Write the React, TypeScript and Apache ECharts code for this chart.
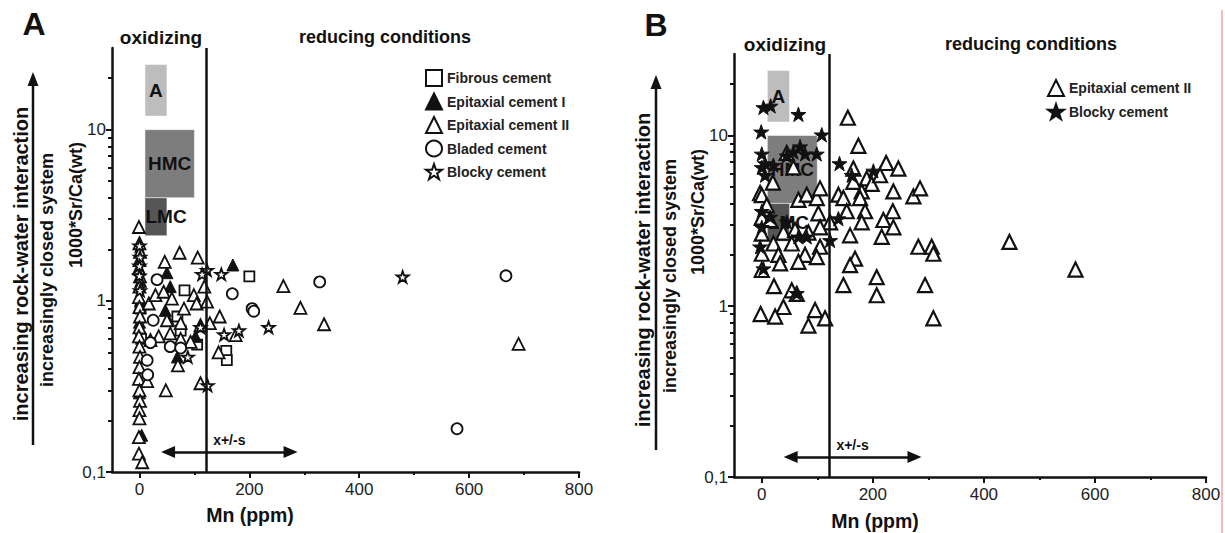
import React, { useEffect, useRef } from "react";
import * as echarts from "echarts";

// ---------- axes ----------
const X_MIN = -50;
const X_MAX = 800;
const Y_MIN = 0.1;
const Y_MAX = 30;
const xMajorTicks = [0, 200, 400, 600, 800];
const xMinorTicks = [100, 300, 500, 700];
const yMajorTicks = [0.1, 1, 10];
const yMinorTicks = [0.2, 0.3, 0.4, 0.5, 0.6, 0.7, 0.8, 0.9, 2, 3, 4, 5, 6, 7, 8, 9, 20];

// threshold oxidizing / reducing and mean +/- s range (shaft ends)
const thresholdMn = 122;
const rangeMn = [52, 275];
const rangeSr = 0.131;

// reference fields [name, xFrom, yFrom, xTo, yTo]
const zoneA = ["A", 10, 12, 50, 24];
const zoneHMC = ["HMC", 10, 4, 100, 10];
const zoneLMC = ["LMC", 10, 2.4, 50, 4];

// ---------- panel A data [Mn ppm, 1000*Sr/Ca] ----------
const fibrousA = [
  [200, 1.39], [82, 1.15], [75, 0.67], [105, 0.555], [158, 0.51], [159, 0.45], [69, 0.81], [2, 0.9], [3, 0.6],
];
const epitaxialIA = [
  [170, 1.62], [50, 1.46], [56, 1.21], [47, 0.88], [53, 0.77], [69, 0.47], [102, 0.62], [4, 0.164], [0, 0.29],
  [2, 1.3], [2, 1.0], [0, 0.75],
];
const epitaxialIIA = [
  [-1, 2.7], [0, 2.17], [1, 1.93], [0, 1.73], [-1, 1.55], [1, 1.39], [0, 1.21], [-1, 1.05], [0, 0.92], [1, 0.81],
  [0, 0.7], [-1, 0.62], [0, 0.54], [1, 0.47], [0, 0.41], [-1, 0.35], [0, 0.3], [1, 0.26], [0, 0.23], [0, 0.206],
  [-1, 0.16], [-1, 0.128], [5, 0.114],
  [46, 1.69], [73, 1.91], [106, 1.79], [17, 0.965], [29, 1.08], [44, 1.13], [59, 1.03], [99, 1.08], [104, 0.965],
  [81, 0.9], [118, 1.21], [123, 0.99], [128, 0.74], [111, 0.72], [75, 0.74], [50, 0.77], [20, 0.59], [35, 0.62],
  [56, 0.645], [75, 0.6], [93, 0.576], [70, 0.42], [48, 0.3], [111, 0.33], [144, 0.5], [146, 0.81], [175, 0.63],
  [262, 1.22], [293, 0.91], [336, 0.73], [690, 0.56], [14, 0.34],
];
const bladedA = [
  [32, 1.33], [169, 1.1], [205, 0.9], [208, 0.87], [328, 1.29], [25, 0.77], [56, 0.54], [75, 0.53], [20, 0.57],
  [14, 0.45], [15, 0.37], [667, 1.4], [578, 0.179],
];
const blockyA = [
  [123, 1.51], [149, 1.43], [114, 1.43], [111, 0.7], [154, 0.635], [181, 0.67], [235, 0.7], [88, 0.47], [124, 0.32],
  [479, 1.38], [0, 2.1], [1, 1.8], [0, 1.6], [0, 1.4], [1, 1.15],
];

// ---------- panel B data ----------
const epitaxialIIB = [
  [155, 12.7], [174, 8.7], [224, 6.9], [246, 6.4], [165, 6.4], [57, 6.5], [45, 7.9], [20, 5.3], [165, 5.35],
  [189, 5.6], [198, 5.2], [213, 5.85],
  [-3, 4.6], [0, 4.47], [66, 4.2], [81, 4.5], [99, 4.3], [105, 4.9], [138, 4.5], [147, 4.3], [180, 4.7], [177, 4.3],
  [237, 4.7], [273, 4.4], [285, 4.9],
  [9, 3.9], [0, 3.3], [15, 3.2], [102, 3.5], [123, 3.1], [153, 3.6], [186, 3.6], [236, 3.6], [180, 3.1], [219, 3.2],
  [237, 2.9], [39, 2.7], [60, 2.8], [84, 2.7], [105, 2.9], [159, 2.6], [216, 2.55], [0, 2.66], [21, 2.33], [54, 2.33],
  [105, 2.23], [282, 2.23], [306, 2.23], [309, 2.03], [0, 2.03], [30, 2.0], [78, 2.0], [99, 1.94], [33, 1.78],
  [66, 1.82], [168, 1.9], [159, 1.74], [0, 1.63], [147, 1.33], [207, 1.48], [207, 1.16], [294, 1.33], [309, 0.85],
  [22, 1.31], [54, 1.24], [63, 1.18], [39, 0.99], [96, 0.95], [114, 0.85], [84, 0.77], [24, 0.87], [-2, 0.9],
  [446, 2.38], [565, 1.64],
];
const blockyB = [
  [3, 14.6], [16, 14.9], [66, 13.3], [-1, 10.5], [108, 10.1], [0, 7.8], [0, 6.5], [6, 5.85], [21, 6.7], [69, 8.6],
  [78, 7.8], [99, 7.8], [57, 8.0], [45, 7.6], [140, 6.85], [162, 5.85], [201, 6.2], [15, 3.33], [45, 3.12],
  [66, 2.55], [81, 2.55], [123, 2.43], [138, 3.26], [-3, 2.23], [3, 1.66], [63, 1.19], [6, 6.85], [0, 3.6], [0, 2.9],
];

const FONT = "Liberation Sans, Arial, Helvetica, sans-serif";
const INK = "#111";
const STAR =
  "path://M50,2 L61.5,36 L97,36 L68.5,57.5 L79.5,92 L50,71 L20.5,92 L31.5,57.5 L3,36 L38.5,36 Z";

function axesFor(gridIndex: number) {
  const xMain = {
    type: "value", gridIndex, min: X_MIN, max: X_MAX, position: "bottom",
    axisLine: { show: true, onZero: false, lineStyle: { color: INK, width: 2.5 } },
    axisTick: { show: true, customValues: xMajorTicks, length: 6, lineStyle: { color: INK, width: 2 } },
    axisLabel: { show: true, customValues: xMajorTicks, fontSize: 17, color: "#222", margin: 9, fontFamily: FONT },
    splitLine: { show: false },
  };
  const xMinor = {
    type: "value", gridIndex, min: X_MIN, max: X_MAX, position: "bottom",
    axisLine: { show: false, onZero: false },
    axisTick: { show: true, customValues: xMinorTicks, length: 3, lineStyle: { color: INK, width: 2 } },
    axisLabel: { show: false },
    splitLine: { show: false },
  };
  const yMain = {
    type: "log", logBase: 10, gridIndex, min: Y_MIN, max: Y_MAX, position: "left",
    axisLine: { show: true, onZero: false, lineStyle: { color: INK, width: 2.5 } },
    axisTick: { show: true, customValues: yMajorTicks, length: 6, lineStyle: { color: INK, width: 2 } },
    axisLabel: {
      show: true, customValues: yMajorTicks, fontSize: 17, color: "#222", margin: 6, fontFamily: FONT,
      formatter: (v: number) => (v < 0.5 ? "0,1" : String(Math.round(v))),
    },
    splitLine: { show: false },
  };
  const yMinor = {
    type: "log", logBase: 10, gridIndex, min: Y_MIN, max: Y_MAX, position: "left",
    axisLine: { show: false, onZero: false },
    axisTick: { show: true, customValues: yMinorTicks, length: 4, lineStyle: { color: INK, width: 2 } },
    axisLabel: { show: false },
    splitLine: { show: false },
  };
  return { x: [xMain, xMinor], y: [yMain, yMinor] };
}

function zoneData(z: any[], color: string, labelPos: string) {
  return [
    {
      name: z[0], coord: [z[1], z[2]], itemStyle: { color, borderColor: "rgba(255,255,255,0.5)", borderWidth: 1 },
      label: { position: labelPos },
    },
    { coord: [z[3], z[4]] },
  ];
}

function helperSeries(axisIdx: number) {
  return [
    {
      type: "line", name: "zones" + axisIdx, xAxisIndex: axisIdx * 2, yAxisIndex: axisIdx * 2, data: [], z: 1,
      markArea: {
        silent: true,
        label: { show: true, fontSize: 19, fontWeight: "bold", color: INK, fontFamily: FONT, distance: 1 },
        data: [
          zoneData(zoneA, "#bdbdbd", "inside"),
          zoneData(zoneHMC, "#7d7d7d", "inside"),
          zoneData(zoneLMC, "#555555", "insideLeft"),
        ],
      },
    },
    {
      type: "line", name: "threshold" + axisIdx, xAxisIndex: axisIdx * 2, yAxisIndex: axisIdx * 2, data: [], z: 2,
      markLine: {
        silent: true, symbol: ["none", "none"], label: { show: false },
        lineStyle: { color: INK, width: 2.5, type: "solid" },
        data: [{ xAxis: thresholdMn }],
      },
    },
    {
      type: "line", name: "range" + axisIdx, xAxisIndex: axisIdx * 2, yAxisIndex: axisIdx * 2, data: [], z: 2,
      markLine: {
        silent: true, symbol: ["triangle", "triangle"], symbolSize: [12, 14],
        label: {
          show: true, formatter: "x+/-s", position: "insideMiddleTop", distance: 5,
          fontSize: 14, fontWeight: "bold", color: INK, fontFamily: FONT,
        },
        lineStyle: { color: INK, width: 2.5, type: "solid" },
        data: [[{ coord: [rangeMn[0], rangeSr] }, { coord: [rangeMn[1], rangeSr] }]],
      },
    },
  ];
}

const openStyle = { color: "#fff", borderColor: INK, borderWidth: 1.8, opacity: 1 };
const fillStyle = { color: INK, borderColor: INK, borderWidth: 1, opacity: 1 };

function scatter(name: string, data: number[][], axisIdx: number, symbol: string, size: number, style: any) {
  return {
    type: "scatter", name, data, xAxisIndex: axisIdx * 2, yAxisIndex: axisIdx * 2, z: 3,
    symbol, symbolSize: size, symbolKeepAspect: true, itemStyle: style,
  };
}

function vText(text: string, x: number, y: number, size: number) {
  return {
    type: "text", x, y, rotation: Math.PI / 2,
    style: {
      text, fill: INK, fontSize: size, fontWeight: "bold", fontFamily: FONT,
      align: "center", verticalAlign: "middle",
    },
  };
}

function hText(text: string, x: number, y: number, size: number) {
  return {
    type: "text", x, y,
    style: {
      text, fill: INK, fontSize: size, fontWeight: "bold", fontFamily: FONT,
      align: "center", verticalAlign: "middle",
    },
  };
}

function upArrow(x: number, yTop: number, yBottom: number) {
  return [
    { type: "line", shape: { x1: x, y1: yTop + 10, x2: x, y2: yBottom }, style: { stroke: INK, lineWidth: 2.5 } },
    { type: "polygon", shape: { points: [[x, yTop], [x - 5.5, yTop + 14], [x + 5.5, yTop + 14]] }, style: { fill: INK } },
  ];
}

export default function App() {
  const ref = useRef<HTMLDivElement>(null);

  useEffect(() => {
    if (!ref.current) return;
    const chart = echarts.init(ref.current, undefined, { renderer: "svg" });
    const a = axesFor(0);
    const b = axesFor(1);

    const option: any = {
      animation: false,
      backgroundColor: "#ffffff",
      textStyle: { fontFamily: FONT },
      grid: [
        { left: 112, top: 48, width: 467, height: 424, containLabel: false },
        { left: 734, top: 54, width: 472, height: 423, containLabel: false },
      ],
      xAxis: [a.x[0], a.x[1], b.x[0], b.x[1]].map((ax: any, i) => ({ ...ax, gridIndex: i < 2 ? 0 : 1 })),
      yAxis: [a.y[0], a.y[1], b.y[0], b.y[1]].map((ax: any, i) => ({ ...ax, gridIndex: i < 2 ? 0 : 1 })),
      legend: [
        {
          orient: "vertical", left: 420, top: 64, itemWidth: 16, itemHeight: 16, itemGap: 5.5,
          textStyle: { fontSize: 14, fontWeight: "bold", color: "#222", fontFamily: FONT },
          data: ["Fibrous cement", "Epitaxial cement I", "Epitaxial cement II", "Bladed cement", "Blocky cement"],
        },
        {
          orient: "vertical", left: 1042, top: 74, itemWidth: 16, itemHeight: 16, itemGap: 6,
          textStyle: { fontSize: 14, fontWeight: "bold", color: "#222", fontFamily: FONT },
          formatter: (n: string) => n.replace("B|", ""),
          data: ["B|Epitaxial cement II", "B|Blocky cement"],
        },
      ],
      series: [
        ...helperSeries(0),
        ...helperSeries(1),
        scatter("Fibrous cement", fibrousA, 0, "rect", 10, openStyle),
        scatter("Epitaxial cement I", epitaxialIA, 0, "triangle", 12, fillStyle),
        scatter("Epitaxial cement II", epitaxialIIA, 0, "triangle", 12, openStyle),
        scatter("Bladed cement", bladedA, 0, "circle", 11, openStyle),
        scatter("Blocky cement", blockyA, 0, STAR, 12, openStyle),
        scatter("B|Epitaxial cement II", epitaxialIIB, 1, "triangle", 14, { ...openStyle, borderWidth: 2.2 }),
        scatter("B|Blocky cement", blockyB, 1, STAR, 15, fillStyle),
      ],
      graphic: [
        hText("A", 34, 24, 32),
        hText("B", 656, 25, 32),
        hText("oxidizing", 161, 37, 19),
        hText("reducing conditions", 385, 37, 18),
        hText("oxidizing", 785, 44, 19),
        hText("reducing conditions", 1031, 44, 18),
        hText("Mn (ppm)", 250, 515, 19.5),
        hText("Mn (ppm)", 875, 521, 19.5),
        vText("increasing rock-water interaction", 21, 264, 20),
        vText("increasingly closed system", 47, 270, 18),
        vText("1000*Sr/Ca(wt)", 76, 205, 18),
        ...upArrow(33, 72, 445),
        vText("increasing rock-water interaction", 643, 270, 20),
        vText("increasingly closed system", 670, 276, 18),
        vText("1000*Sr/Ca(wt)", 698, 212, 18),
        ...upArrow(656, 75, 450),
        { type: "line", shape: { x1: 1222, y1: 10, x2: 1222, y2: 533 }, style: { stroke: "#f28c8c", lineWidth: 1.2 } },
      ],
    };

    chart.setOption(option);
    return () => chart.dispose();
  }, []);

  return (
    <div
      ref={ref}
      style={{ position: "fixed", left: 0, top: 0, width: 1225, height: 533, background: "#fff" }}
    />
  );
}
